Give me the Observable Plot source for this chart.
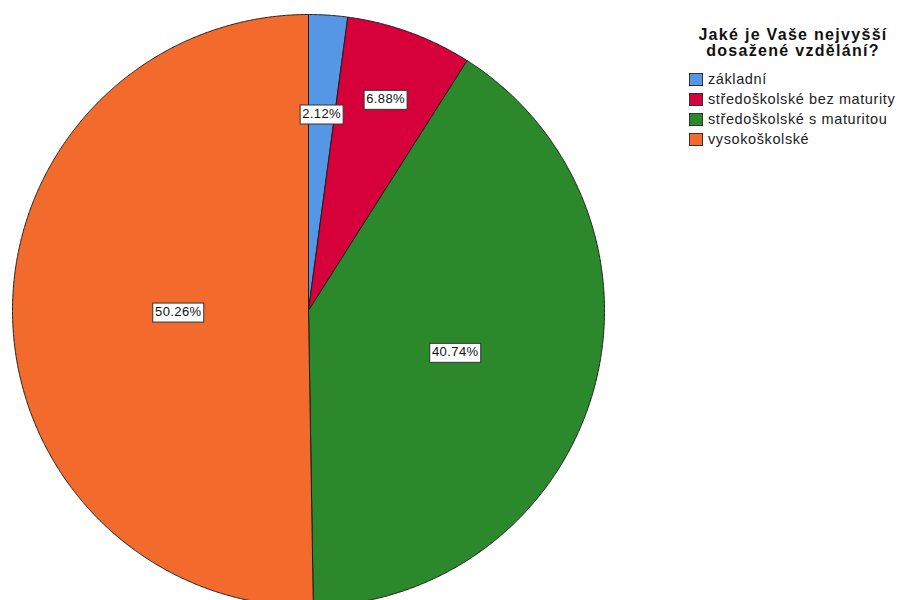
<!DOCTYPE html>
<html><head><meta charset="utf-8">
<script src="https://cdn.jsdelivr.net/npm/d3@7"></script>
<script src="https://cdn.jsdelivr.net/npm/@observablehq/plot@0.6"></script>
<style>
body{margin:0;background:#fff;font-family:"Liberation Sans",Arial,sans-serif;}
#wrap{position:relative;width:898px;height:600px;overflow:hidden;background:#fff;}
.tl{position:absolute;left:686px;width:214px;height:15px;text-align:center;font-weight:bold;font-size:16px;letter-spacing:1.3px;line-height:15px;color:#111;white-space:nowrap;}
.item{position:absolute;left:689px;height:14px;white-space:nowrap;font-size:14.5px;letter-spacing:0.6px;line-height:14px;color:#222;}
.sw{position:absolute;left:0;top:0;width:12px;height:11px;border:1px solid #333;}
.lt{position:absolute;left:19px;top:-1px;}
</style></head><body>
<div id="wrap"><div id="chart"></div><div id="legend"></div></div>
<script>
const categories = ["základní", "středoškolské bez maturity", "středoškolské s maturitou", "vysokoškolské"];
const percents = [2.12, 6.88, 40.74, 50.26];
const labels = ["2.12%", "6.88%", "40.74%", "50.26%"];
const colors = ["#5597e4", "#d6003a", "#2b892b", "#f36b2c"];
const legendTitle = ["Jaké je Vaše nejvyšší", "dosažené vzdělání?"];

// layout (not data): label distance from centre as a fraction of radius
const labelRadius = [0.667, 0.761, 0.515, 0.44];

const total = d3.sum(percents);
const slicePts = [];
const labelPts = [];
let acc = 0;
categories.forEach((c, i) => {
  const a0 = acc / total * 2 * Math.PI;
  acc += percents[i];
  const a1 = acc / total * 2 * Math.PI;
  slicePts.push({cat: c, x: 0, y: 0});
  const n = Math.max(2, Math.ceil((a1 - a0) / (Math.PI / 720)));
  for (let k = 0; k <= n; k++) {
    const a = a0 + (a1 - a0) * k / n;
    slicePts.push({cat: c, x: Math.sin(a), y: Math.cos(a)});
  }
  slicePts.push({cat: c, x: 0, y: 0});
  const am = (a0 + a1) / 2;
  labelPts.push({cat: c, label: labels[i], x: labelRadius[i] * Math.sin(am), y: labelRadius[i] * Math.cos(am)});
});

const R = 296, cx = 308, cy = 310, W = 898, H = 600;
const plot = Plot.plot({
  width: W, height: H,
  marginLeft: 0, marginRight: 0, marginTop: 0, marginBottom: 0,
  style: {fontFamily: '"Liberation Sans", Arial, sans-serif', background: "white", overflow: "hidden"},
  x: {domain: [-cx / R, (W - cx) / R], axis: null},
  y: {domain: [-(H - cy) / R, cy / R], axis: null},
  color: {domain: categories, range: colors},
  marks: [
    Plot.line(slicePts, {x: "x", y: "y", z: "cat", fill: "cat", stroke: "#1e1e1e", strokeWidth: 1, strokeLinejoin: "round", curve: "linear"}),
    Plot.text(labelPts, {x: "x", y: "y", text: "label", fontSize: 13, fill: "#111"})
  ]
});
document.getElementById("chart").appendChild(plot);

// white boxes behind slice labels, sized from the rendered text
d3.select(plot).selectAll('g[aria-label="text"] text').each(function() {
  this.setAttribute("letter-spacing", "0.4");
  const b = this.getBBox();
  const r = document.createElementNS("http://www.w3.org/2000/svg", "rect");
  r.setAttribute("x", Math.round(b.x) - 2.5);
  r.setAttribute("y", Math.round(b.y) - 0.5);
  r.setAttribute("width", Math.round(b.width) + 4);
  r.setAttribute("height", Math.round(b.height) + 4);
  r.setAttribute("fill", "white");
  r.setAttribute("stroke", "#333");
  r.setAttribute("stroke-width", "1");
  const tr = this.getAttribute("transform");
  if (tr) r.setAttribute("transform", tr);
  this.parentNode.insertBefore(r, this);
});

// legend
const lg = document.getElementById("legend");
legendTitle.forEach((line, i) => {
  const t = document.createElement("div");
  t.className = "tl";
  t.style.top = (27 + 16 * i) + "px";
  t.textContent = line;
  lg.appendChild(t);
});
categories.forEach((c, i) => {
  const it = document.createElement("div");
  it.className = "item";
  it.style.top = (73 + 20 * i) + "px";
  it.innerHTML = `<div class="sw" style="background:${colors[i]}"></div><div class="lt">${c}</div>`;
  lg.appendChild(it);
});
</script>
</body></html>
